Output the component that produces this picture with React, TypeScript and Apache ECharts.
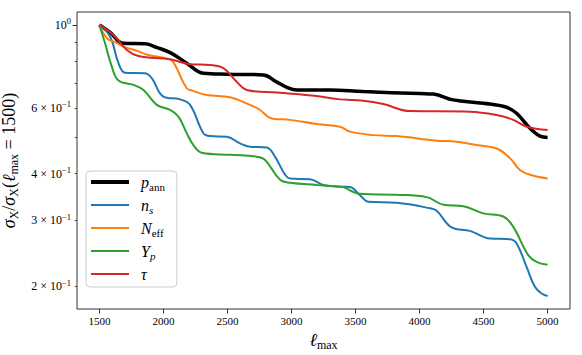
import React, { useEffect, useRef } from "react";
import * as echarts from "echarts";

// ---- data ----
const ellPann = [1500, 1584, 1687, 1857, 1950, 2053, 2182, 2312, 2500, 2780, 2880, 2963, 3041, 3300, 3561, 4000, 4108, 4263, 4498, 4680, 4758, 4862, 4940, 5000];
const valPann = [1.0, 0.955, 0.893, 0.89, 0.87, 0.843, 0.79, 0.742, 0.738, 0.735, 0.705, 0.681, 0.67, 0.67, 0.663, 0.655, 0.653, 0.63, 0.617, 0.602, 0.58, 0.529, 0.504, 0.5];

const ellNs = [1500, 1584, 1649, 1701, 1857, 1909, 2000, 2130, 2208, 2312, 2364, 2494, 2598, 2676, 2806, 2871, 2950, 2989, 3145, 3249, 3379, 3457, 3535, 3600, 3822, 4082, 4134, 4251, 4394, 4550, 4706, 4758, 4836, 4901, 4953, 5000];
const valNs = [1.0, 0.93, 0.79, 0.745, 0.742, 0.72, 0.643, 0.632, 0.611, 0.513, 0.504, 0.502, 0.482, 0.472, 0.47, 0.444, 0.397, 0.388, 0.386, 0.373, 0.369, 0.368, 0.35, 0.336, 0.334, 0.323, 0.318, 0.287, 0.281, 0.268, 0.267, 0.26, 0.225, 0.199, 0.191, 0.188];

const ellNeff = [1500, 1560, 1620, 1687, 1792, 1883, 2052, 2091, 2182, 2234, 2338, 2520, 2676, 2754, 2845, 2989, 3197, 3379, 3457, 3639, 3822, 4134, 4290, 4446, 4602, 4706, 4784, 4862, 5000];
const valNeff = [1.0, 0.92, 0.9, 0.875, 0.853, 0.831, 0.809, 0.781, 0.677, 0.666, 0.649, 0.64, 0.611, 0.592, 0.562, 0.557, 0.543, 0.534, 0.518, 0.507, 0.504, 0.49, 0.487, 0.477, 0.467, 0.44, 0.409, 0.397, 0.388];

const ellYp = [1500, 1544, 1597, 1649, 1766, 1844, 1948, 2052, 2117, 2182, 2234, 2299, 2520, 2728, 2794, 2911, 2989, 3197, 3379, 3405, 3535, 3822, 4056, 4186, 4342, 4498, 4654, 4732, 4849, 4914, 5000];
const valYp = [1.0, 0.893, 0.773, 0.71, 0.691, 0.67, 0.611, 0.592, 0.568, 0.513, 0.477, 0.455, 0.449, 0.444, 0.435, 0.385, 0.378, 0.373, 0.369, 0.368, 0.353, 0.351, 0.346, 0.33, 0.327, 0.313, 0.307, 0.288, 0.242, 0.232, 0.228];

const ellTau = [1500, 1609, 1714, 1804, 2052, 2208, 2364, 2468, 2572, 2650, 2885, 3197, 3379, 3561, 3717, 3925, 4394, 4602, 4732, 4836, 5000];
const valTau = [1.0, 0.94, 0.857, 0.826, 0.809, 0.785, 0.781, 0.766, 0.705, 0.67, 0.659, 0.645, 0.632, 0.627, 0.614, 0.588, 0.586, 0.574, 0.557, 0.534, 0.523];

const seriesNames = ["p_ann", "n_s", "N_eff", "Y_p", "tau"];
const legendLabels = ["{i|p}{sub|ann}", "{i|n}{subi|s}", "{i|N}{sub|eff}", "{i|Y}{subi|p}", "{i|τ}"];
const seriesColors = ["#000000", "#1f77b4", "#ff7f0e", "#2ca02c", "#d62728"];

const xTicks = [1500, 2000, 2500, 3000, 3500, 4000, 4500, 5000];
const yMinorTicks = [0.2, 0.3, 0.4, 0.5, 0.6, 0.7, 0.8, 0.9];
const yLabelTicks = [0.2, 0.3, 0.4, 0.6, 1];
const yMajorTicks = [1];

const FONT = "Liberation Serif";

export default function App() {
  const ref = useRef<HTMLDivElement>(null);
  useEffect(() => {
    if (!ref.current) return;
    const chart = echarts.init(ref.current, undefined, { renderer: "svg" });
    const ells = [ellPann, ellNs, ellNeff, ellYp, ellTau];
    const vals = [valPann, valNs, valNeff, valYp, valTau];
    const widths = [3.5, 2, 2, 2, 2];

    const yFormatter = (v: number) => {
      const r = Math.round(v * 10);
      if (r === 10) return "{yb|10}{ys|0}";
      return "{yb|" + r + " × 10}{ys|−1}";
    };

    chart.setOption({
      animation: false,
      backgroundColor: "#fff",
      textStyle: { fontFamily: FONT, color: "#000" },
      grid: {
        left: 77, right: 12, top: 12, bottom: 46,
        outerBoundsMode: "none",
        containLabel: false,
        show: true, borderColor: "#333", borderWidth: 1, backgroundColor: "transparent",
      },
      xAxis: {
        type: "value", min: 1325, max: 5175,
        axisLine: { show: false },
        splitLine: { show: false },
        axisTick: { show: true, customValues: xTicks, length: 4.5, lineStyle: { color: "#333", width: 1 } },
        axisLabel: {
          customValues: xTicks, fontSize: 11, fontFamily: FONT, color: "#000", margin: 6,
          formatter: (v: number) => String(v),
        },
        name: "{i|ℓ}{sub|max}",
        nameLocation: "middle",
        nameGap: 12,
        nameTextStyle: {
          fontFamily: FONT,
          rich: {
            i: { fontSize: 18, fontFamily: FONT, fontStyle: "italic", color: "#000", lineHeight: 22, verticalAlign: "middle" },
            sub: { fontSize: 12, fontFamily: FONT, color: "#000", lineHeight: 12, verticalAlign: "bottom" },
          },
        },
      },
      yAxis: [
        {
          type: "log", min: 0.1736, max: 1.083, logBase: 10,
          axisLine: { show: false },
          splitLine: { show: false },
          axisTick: { show: true, customValues: yMinorTicks, length: 2.5, lineStyle: { color: "#333", width: 0.8 } },
          axisLabel: {
            customValues: yLabelTicks, formatter: yFormatter, margin: 6,
            fontSize: 12, fontFamily: FONT, color: "#000",
            rich: {
              yb: { fontSize: 12, fontFamily: FONT, color: "#000", lineHeight: 16, verticalAlign: "middle" },
              ys: { fontSize: 8.5, fontFamily: FONT, color: "#000", lineHeight: 9, verticalAlign: "top" },
            },
          },
          name: "{i|σ}{sub|X}{n|/}{i|σ}{sub|X}{n|(}{i|ℓ}{sub|max}{n| = 1500)}",
          nameLocation: "middle",
          nameRotate: 90,
          nameGap: 46,
          nameTextStyle: {
            fontFamily: FONT,
            rich: {
              i: { fontSize: 18, fontFamily: FONT, fontStyle: "italic", color: "#000", lineHeight: 22, verticalAlign: "middle" },
              n: { fontSize: 18, fontFamily: FONT, color: "#000", lineHeight: 22, verticalAlign: "middle" },
              sub: { fontSize: 12, fontFamily: FONT, color: "#000", lineHeight: 12, verticalAlign: "bottom" },
            },
          },
        },
        {
          type: "log", min: 0.1736, max: 1.083, logBase: 10,
          axisLine: { show: false },
          splitLine: { show: false },
          axisTick: { show: true, customValues: yMajorTicks, length: 4.5, lineStyle: { color: "#333", width: 1 } },
          axisLabel: { show: false },
          position: "left",
        },
      ],
      legend: {
        orient: "vertical",
        left: 86, top: 171,
        padding: [3, 12, 5, 5],
        itemWidth: 38, itemHeight: 4, itemGap: 5,
        backgroundColor: "#fff",
        borderColor: "#cccccc",
        borderWidth: 1,
        borderRadius: 4,
        formatter: (name: string) => legendLabels[seriesNames.indexOf(name)],
        textStyle: {
          fontFamily: FONT,
          fontSize: 16,
          padding: [0, 0, 0, 7],
          rich: {
            i: { fontSize: 16, fontFamily: FONT, fontStyle: "italic", color: "#000", lineHeight: 20, verticalAlign: "middle" },
            sub: { fontSize: 11, fontFamily: FONT, color: "#000", lineHeight: 11, verticalAlign: "bottom" },
            subi: { fontSize: 11, fontFamily: FONT, fontStyle: "italic", color: "#000", lineHeight: 11, verticalAlign: "bottom" },
          },
        },
        data: seriesNames.map((n, i) => ({
          name: n,
          icon: i === 0 ? "path://M0,0H38V4H0Z" : "path://M0,0H38V2H0Z",
          itemStyle: { color: seriesColors[i] },
        })),
      },
      series: seriesNames.map((n, i) => ({
        name: n,
        type: "line",
        yAxisIndex: 0,
        data: ells[i].map((x, j) => [x, vals[i][j]]),
        showSymbol: false,
        symbol: "none",
        smooth: 0.4,
        color: seriesColors[i],
        lineStyle: { color: seriesColors[i], width: widths[i] },
      })),
    });
    return () => chart.dispose();
  }, []);
  return <div ref={ref} style={{ width: 582, height: 355, position: "absolute", left: 0, top: 0 }} />;
}
